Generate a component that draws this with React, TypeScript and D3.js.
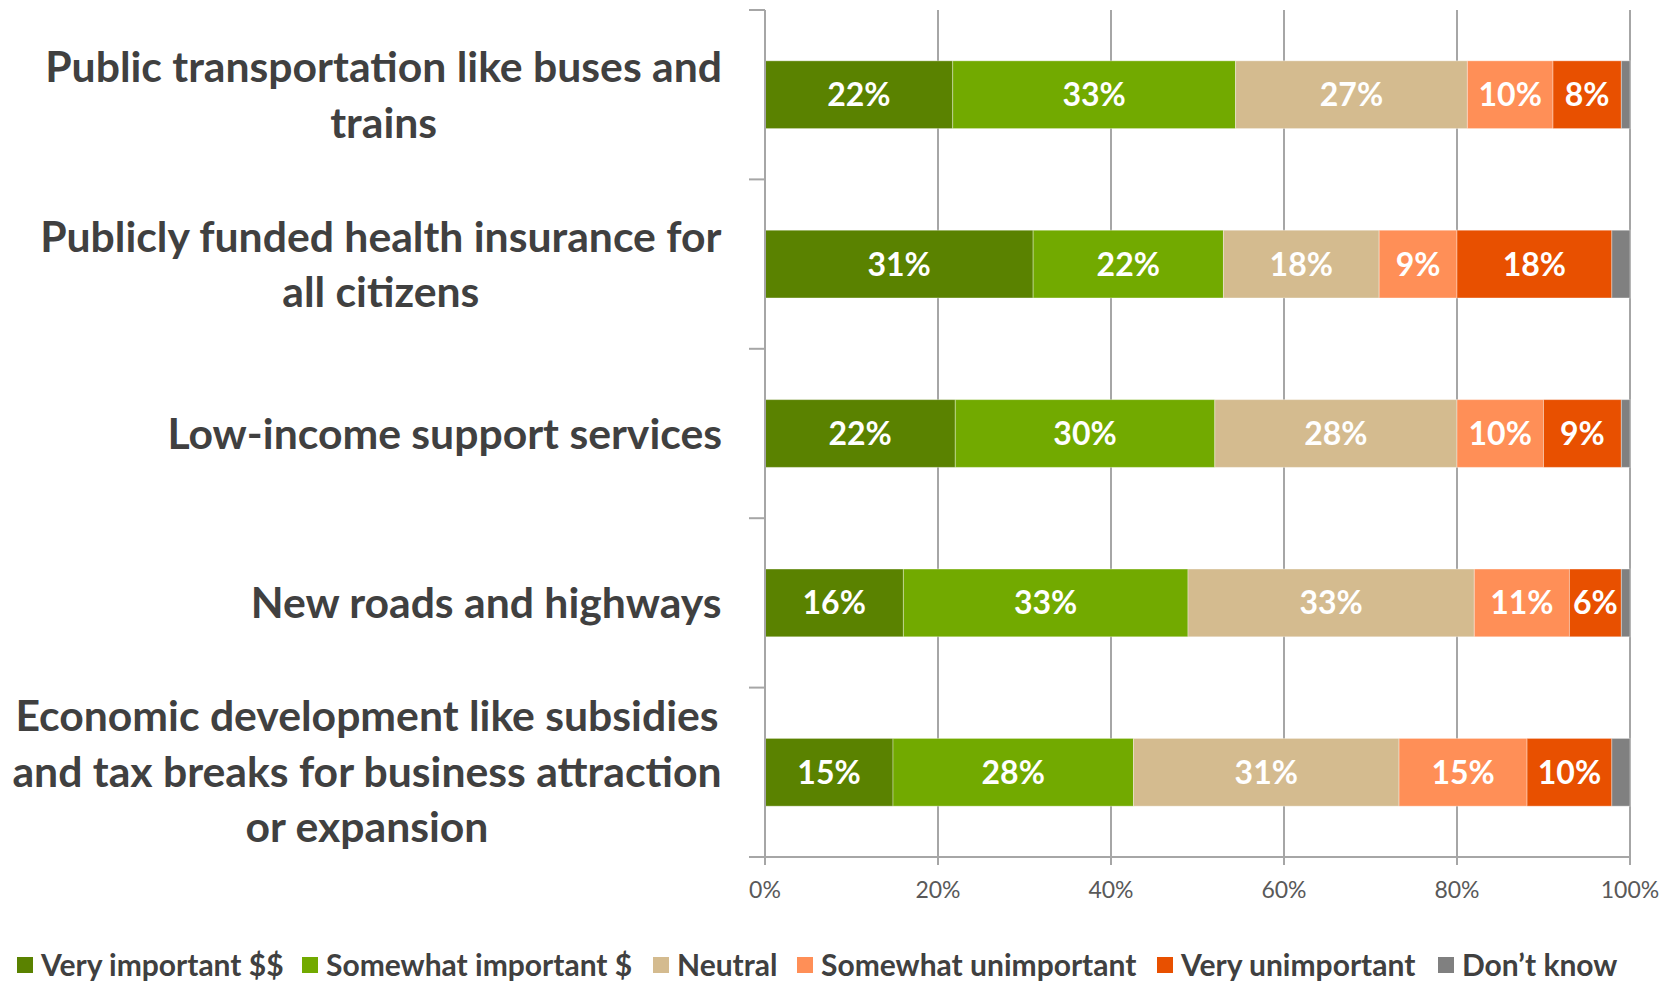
import React from "react";
import * as d3 from "d3";

const categories: string[][] = [
  ["Public transportation like buses and", "trains"],
  ["Publicly funded health insurance for", "all citizens"],
  ["Low-income support services"],
  ["New roads and highways"],
  ["Economic development like subsidies", "and tax breaks for business attraction", "or expansion"],
];
const seriesNames = [
  "Very important $$",
  "Somewhat important $",
  "Neutral",
  "Somewhat unimportant",
  "Very unimportant",
  "Don\u2019t know",
];
const veryImportant = [21.7, 31.0, 22.0, 16.0, 14.8];
const somewhatImportant = [32.7, 22.0, 30.0, 32.9, 27.8];
const neutral = [26.8, 18.0, 28.0, 33.1, 30.7];
const somewhatUnimportant = [9.9, 9.0, 10.0, 11.0, 14.8];
const veryUnimportant = [7.9, 17.9, 9.0, 6.0, 9.8];
const dontKnow = [1.0, 2.1, 1.0, 1.0, 2.1];
const xTicks = [0, 20, 40, 60, 80, 100];
const colors = ["#5A8200", "#72AA00", "#D4BB8F", "#FF8F57", "#E85000", "#808080"];

const W = 1675;
const H = 981;
const M = { left: 765, right: 1630, top: 10, bottom: 857 };
const FONT = "Lato, 'Open Sans', sans-serif";
const CAT_SIZE = 42.7;

let ctx: CanvasRenderingContext2D | null = null;
function measure(text: string, font: string): number {
  if (!ctx && typeof document !== "undefined") {
    ctx = document.createElement("canvas").getContext("2d");
  }
  if (!ctx) return text.length * 20;
  ctx.font = font;
  return ctx.measureText(text).width;
}

export default function App() {
  const series = [veryImportant, somewhatImportant, neutral, somewhatUnimportant, veryUnimportant, dontKnow];
  const x = d3.scaleLinear().domain([0, 100]).range([M.left, M.right]);
  const y = d3
    .scaleBand<number>()
    .domain(categories.map((_, i) => i))
    .range([M.top, M.bottom])
    .paddingInner(0.6)
    .paddingOuter(0.3);
  const band = (M.bottom - M.top) / categories.length;
  const bw = y.bandwidth();

  const rows = categories.map((_, i) => {
    let acc = 0;
    return series.map((s, k) => {
      const x0 = acc;
      acc += s[i];
      return { k, x0, x1: acc, v: s[i] };
    });
  });

  const legendX = [17, 302, 653, 797, 1157, 1438];
  const lineH = 55.5;
  const catFont = `700 ${CAT_SIZE}px Lato`;

  return (
    <svg
      width={W}
      height={H}
      style={{ position: "absolute", left: 0, top: 0, background: "#fff" }}
      fontFamily={FONT}
    >
      {/* gridlines */}
      {xTicks.slice(1).map((t) => (
        <line key={t} x1={x(t)} x2={x(t)} y1={M.top} y2={M.bottom} stroke="#A6A6A6" strokeWidth={2} />
      ))}
      {/* bars */}
      {rows.map((segs, i) => (
        <g key={i}>
          {segs.map((s) => (
            <rect
              key={s.k}
              x={x(s.x0)}
              y={y(i)!}
              width={x(s.x1) - x(s.x0)}
              height={bw}
              fill={colors[s.k]}
              stroke="#fff"
              strokeOpacity={0.35}
              strokeWidth={1}
            />
          ))}
          {segs
            .filter((s) => s.k < 5)
            .map((s) => (
              <text
                key={"t" + s.k}
                x={(x(s.x0) + x(s.x1)) / 2}
                y={y(i)! + bw / 2}
                dy="0.36em"
                textAnchor="middle"
                fill="#fff"
                fontWeight={700}
                fontSize={32}
              >
                {Math.round(s.v) + "%"}
              </text>
            ))}
        </g>
      ))}
      {/* left axis */}
      <line x1={M.left} x2={M.left} y1={M.top} y2={M.bottom} stroke="#A6A6A6" strokeWidth={2} />
      {d3.range(categories.length + 1).map((j) => (
        <line
          key={j}
          x1={M.left - 16}
          x2={M.left}
          y1={M.top + j * band}
          y2={M.top + j * band}
          stroke="#A6A6A6"
          strokeWidth={2}
        />
      ))}
      {/* bottom axis */}
      <line x1={M.left} x2={M.right} y1={M.bottom} y2={M.bottom} stroke="#A6A6A6" strokeWidth={2} />
      {xTicks.map((t) => (
        <g key={t}>
          <line x1={x(t)} x2={x(t)} y1={M.bottom} y2={M.bottom + 8} stroke="#A6A6A6" strokeWidth={2} />
          <text x={x(t)} y={M.bottom + 41} textAnchor="middle" fill="#595959" fontSize={23}>
            {t + "%"}
          </text>
        </g>
      ))}
      {/* category labels */}
      {categories.map((lines, i) => {
        const cy = y(i)! + bw / 2;
        const n = lines.length;
        const maxW = Math.max(...lines.map((l) => measure(l, catFont)));
        const cx = 722 - maxW / 2;
        return (
          <text key={i} textAnchor="middle" fill="#404040" fontWeight={700} fontSize={CAT_SIZE}>
            {lines.map((l, li) => (
              <tspan key={li} x={cx} y={cy + (li - (n - 1) / 2) * lineH - (n === 3 ? 1 : 0)} dy="0.36em">
                {l}
              </tspan>
            ))}
          </text>
        );
      })}
      {/* legend */}
      {seriesNames.map((s, k) => (
        <g key={s} transform={`translate(${legendX[k]},965)`}>
          <rect x={0} y={-8} width={16} height={16} fill={colors[k]} />
          <text x={24} y={0} dy="0.36em" fill="#404040" fontWeight={700} fontSize={30}>
            {s}
          </text>
        </g>
      ))}
    </svg>
  );
}
